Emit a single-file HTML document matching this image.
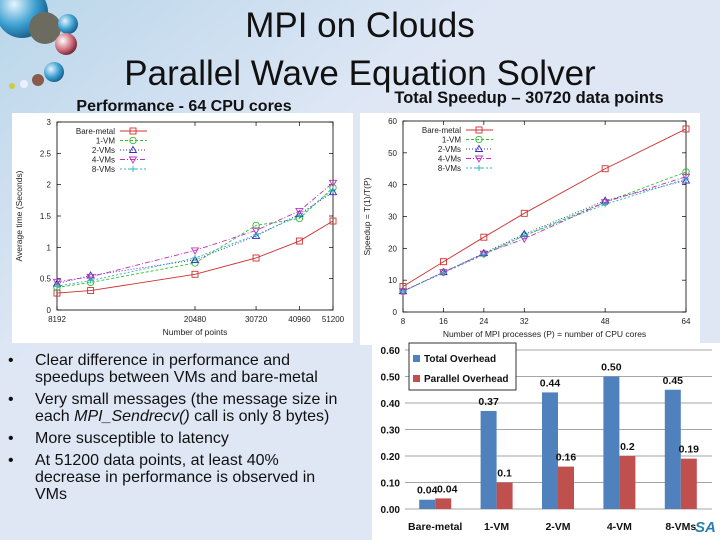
<!DOCTYPE html>
<html><head><meta charset="utf-8"><style>
body{margin:0;width:720px;height:540px;overflow:hidden;background:#dfe7f5;font-family:"Liberation Sans",sans-serif}
svg{display:block}
</style></head><body>
<svg id="s" width="720" height="540" xmlns="http://www.w3.org/2000/svg">
<defs>
<linearGradient id="bg" x1="0" y1="0" x2="1" y2="1"><stop offset="0" stop-color="#b9d6ea"/><stop offset="0.35" stop-color="#dfe7f5"/><stop offset="1" stop-color="#dfe7f5"/></linearGradient>
<radialGradient id="ball" cx="0.35" cy="0.35" r="0.7"><stop offset="0" stop-color="#e8f4ff"/><stop offset="0.6" stop-color="#3a9fd0"/><stop offset="1" stop-color="#1a5c88"/></radialGradient>
<radialGradient id="ballr" cx="0.35" cy="0.35" r="0.7"><stop offset="0" stop-color="#fff"/><stop offset="0.6" stop-color="#d07080"/><stop offset="1" stop-color="#6a2030"/></radialGradient>
</defs>
<rect width="720" height="540" fill="url(#bg)"/>
<g>
<circle cx="22" cy="12" r="26" fill="url(#ball)"/>
<circle cx="45" cy="28" r="16" fill="#6b6b60"/>
<circle cx="68" cy="24" r="10" fill="url(#ball)"/>
<circle cx="66" cy="44" r="11" fill="url(#ballr)"/>
<circle cx="54" cy="72" r="10" fill="url(#ball)"/>
<circle cx="38" cy="80" r="6" fill="#8a5a4a"/>
<circle cx="24" cy="84" r="4" fill="#eef"/>
<circle cx="12" cy="86" r="3" fill="#cc4"/>
</g>
<text x="360" y="37" text-anchor="middle" font-size="35" fill="#111">MPI on Clouds</text>
<text x="360" y="85" text-anchor="middle" font-size="35" fill="#111">Parallel Wave Equation Solver</text>
<text x="184" y="111" text-anchor="middle" font-size="16" font-weight="bold" fill="#111">Performance -  64 CPU cores</text>
<text x="529" y="103" text-anchor="middle" font-size="16.5" font-weight="bold" fill="#111">Total Speedup – 30720 data points</text>
<g id="left"></g>
<g id="right"></g>
<g id="bar"></g>
<g font-size="16" fill="#111">
<text x="8" y="365">•</text><text x="35" y="365">Clear difference in performance and</text>
<text x="35" y="382">speedups between VMs and bare-metal</text>
<text x="8" y="404">•</text><text x="35" y="404">Very small messages (the message size in</text>
<text x="35" y="421">each <tspan font-style="italic">MPI_Sendrecv()</tspan> call is only 8 bytes)</text>
<text x="8" y="443">•</text><text x="35" y="443">More susceptible to latency</text>
<text x="8" y="465">•</text><text x="35" y="465">At 51200 data points, at least 40%</text>
<text x="35" y="482">decrease in performance is observed in</text>
<text x="35" y="499">VMs</text>
</g>
<text x="695" y="532" font-size="15" font-weight="bold" font-style="italic" fill="#2a7fb0">SA</text>
</svg>
<script>
// ---- left chart data ----
const perfX = [8192, 10240, 20480, 30720, 40960, 51200];
const perfXTicks = [8192, 20480, 30720, 40960, 51200];
const perfYTicks = [0, 0.5, 1, 1.5, 2, 2.5, 3];
const perfBare = [0.27, 0.31, 0.57, 0.83, 1.10, 1.42];
const perf1VM = [0.36, 0.44, 0.75, 1.35, 1.46, 1.95];
const perf2VM = [0.42, 0.55, 0.80, 1.18, 1.53, 1.88];
const perf4VM = [0.45, 0.53, 0.95, 1.27, 1.58, 2.03];
const perf8VM = [0.38, 0.47, 0.83, 1.20, 1.50, 1.92];
// ---- right chart data ----
const spX = [8, 16, 24, 32, 48, 64];
const spYTicks = [0, 10, 20, 30, 40, 50, 60];
const spBare = [8, 15.8, 23.5, 31, 45, 57.5];
const sp1VM = [6.5, 12.5, 18.3, 24, 34.5, 44];
const sp2VM = [6.5, 12.5, 18.5, 24.5, 35, 41.3];
const sp4VM = [6.5, 12.5, 18.3, 23, 34.5, 42.5];
const sp8VM = [6.5, 12.3, 18, 24, 33.8, 41.8];
// ---- bar chart data ----
const ohCats = ["Bare-metal", "1-VM", "2-VM", "4-VM", "8-VMs"];
const ohTotal = [0.035, 0.37, 0.44, 0.50, 0.45];
const ohTotalLabels = ["0.04", "0.37", "0.44", "0.50", "0.45"];
const ohPar = [0.04, 0.10, 0.16, 0.20, 0.19];
const ohParLabels = ["0.04", "0.1", "0.16", "0.2", "0.19"];
const ohYTicks = [0, 0.1, 0.2, 0.3, 0.4, 0.5, 0.6];

const NS = "http://www.w3.org/2000/svg";
function el(p, t, a, txt){const e=document.createElementNS(NS,t);for(const k in a)e.setAttribute(k,a[k]);if(txt!==undefined)e.textContent=txt;p.appendChild(e);return e;}
const seriesStyle = [
 {n:"Bare-metal",c:"#d03030",d:"",m:"sq"},
 {n:"1-VM",c:"#30c030",d:"3,2",m:"ci"},
 {n:"2-VMs",c:"#3030c0",d:"1,2",m:"tu"},
 {n:"4-VMs",c:"#c030c0",d:"5,2,1,2",m:"td"},
 {n:"8-VMs",c:"#30b0c0",d:"2,2",m:"pl"}];
function marker(g,m,x,y,c){
 const a={fill:"none",stroke:c,"stroke-width":0.9};
 let e;
 if(m==="sq")e=el(g,"rect",Object.assign({x:x-3,y:y-3,width:6,height:6},a));
 else if(m==="ci")e=el(g,"circle",Object.assign({cx:x,cy:y,r:3.2},a));
 else if(m==="tu")e=el(g,"path",Object.assign({d:`M${x-3.5},${y+2.5}L${x+3.5},${y+2.5}L${x},${y-3.5}Z`},a));
 else if(m==="td")e=el(g,"path",Object.assign({d:`M${x-3.5},${y-2.5}L${x+3.5},${y-2.5}L${x},${y+3.5}Z`},a));
 else e=el(g,"path",Object.assign({d:`M${x-3},${y}H${x+3}M${x},${y-3}V${y+3}`},a));
 
 
}
function lineChart(g, box, xs, xf, yf, xticks, xtl, yticks, ytl, series, xlabel, ylabel, px0, py0, px1, py1){
 el(g,"rect",{x:box[0],y:box[1],width:box[2],height:box[3],fill:"#fff"});
 el(g,"rect",{x:px0,y:py1,width:px1-px0,height:py0-py1,fill:"none",stroke:"#000","stroke-width":0.8});
 xticks.forEach((t,i)=>{const x=xf(t);el(g,"line",{x1:x,y1:py0,x2:x,y2:py0-4,stroke:"#000","stroke-width":0.7});el(g,"line",{x1:x,y1:py1,x2:x,y2:py1+4,stroke:"#000","stroke-width":0.7});
  const tx=el(g,"text",{x:x,y:py0+12,"text-anchor":"middle","font-size":8,fill:"#222"},xtl[i]);});
 yticks.forEach((t,i)=>{const y=yf(t);el(g,"line",{x1:px0,y1:y,x2:px0+4,y2:y,stroke:"#000","stroke-width":0.7});el(g,"line",{x1:px1,y1:y,x2:px1-4,y2:y,stroke:"#000","stroke-width":0.7});
  const ty=el(g,"text",{x:px0-6,y:y+3,"text-anchor":"end","font-size":8,fill:"#222"},ytl[i]);});
 const xl=el(g,"text",{x:(px0+px1)/2,y:py0+25,"text-anchor":"middle","font-size":8.5,fill:"#222"},xlabel);
 
 const cy=(py0+py1)/2;
 const yl=el(g,"text",{x:box[0]+10,y:cy,"text-anchor":"middle","font-size":8.5,fill:"#222",transform:`rotate(-90 ${box[0]+10} ${cy})`},ylabel);
 
 series.forEach((vals,si)=>{const st=seriesStyle[si];
  const pts=vals.map((v,i)=>[xf(xs[i]),yf(v)]);
  const p=el(g,"polyline",{points:pts.map(q=>q.join(",")).join(" "),fill:"none",stroke:st.c,"stroke-width":0.9,"stroke-dasharray":st.d});
  
  pts.forEach(q=>marker(g,st.m,q[0],q[1],st.c));
  const ly=py1+9+si*9.5, lx=px0+58;
  const lt=el(g,"text",{x:lx,y:ly+3,"text-anchor":"end","font-size":8,fill:"#222"},st.n);
  
  el(g,"line",{x1:lx+5,y1:ly,x2:lx+32,y2:ly,stroke:st.c,"stroke-width":0.9,"stroke-dasharray":st.d});
  marker(g,st.m,lx+18,ly,st.c);
 });
}
// left
{const g=document.getElementById("left");const px0=57,px1=333,py0=310,py1=122;
 const lx0=Math.log(8192),lx1=Math.log(51200);
 const xf=v=>px0+(Math.log(v)-lx0)/(lx1-lx0)*(px1-px0);
 const yf=v=>py0-v/3*(py0-py1);
 lineChart(g,[12,113,341,230],perfX,xf,yf,perfXTicks,perfXTicks.map(String),perfYTicks,perfYTicks.map(String),[perfBare,perf1VM,perf2VM,perf4VM,perf8VM],"Number of points","Average time (Seconds)",px0,py0,px1,py1);}
// right
{const g=document.getElementById("right");const px0=403,px1=686,py0=312,py1=121;
 const xf=v=>px0+(v-8)/56*(px1-px0);
 const yf=v=>py0-v/60*(py0-py1);
 lineChart(g,[360,113,340,232],spX,xf,yf,spX,spX.map(String),spYTicks,spYTicks.map(String),[spBare,sp1VM,sp2VM,sp4VM,sp8VM],"Number of MPI processes (P) = number of CPU cores","Speedup = T(1)/T(P)",px0,py0,px1,py1);}
// bar
{const g=document.getElementById("bar");const px0=405,px1=712,py0=509,py1=350;
 el(g,"rect",{x:372,y:343,width:348,height:197,fill:"#fff"});
 const yf=v=>py0-v/0.6*(py0-py1);
 ohYTicks.forEach(t=>{const y=yf(t);el(g,"line",{x1:px0,y1:y,x2:px1,y2:y,stroke:"#888","stroke-width":0.8});
  const ty=el(g,"text",{x:400,y:y+4,"text-anchor":"end","font-size":10,"font-weight":"bold",fill:"#111"},t.toFixed(2));
  });
 const bw=(px1-px0)/ohCats.length;
 ohCats.forEach((c,i)=>{const cx=px0+bw*(i+0.5)-0.5;
  const b1=el(g,"rect",{x:cx-16,y:yf(ohTotal[i]),width:16,height:py0-yf(ohTotal[i]),fill:"#4f81bd"});
  
  const b2=el(g,"rect",{x:cx,y:yf(ohPar[i]),width:16,height:py0-yf(ohPar[i]),fill:"#c0504d"});
  
  const t1=el(g,"text",{x:cx-8,y:yf(ohTotal[i])-6,"text-anchor":"middle","font-size":10.5,"font-weight":"bold",fill:"#111"},ohTotalLabels[i]);
  
  const t2=el(g,"text",{x:cx+8+(i==0?4:0),y:yf(ohPar[i])-6,"text-anchor":"middle","font-size":10.5,"font-weight":"bold",fill:"#111"},ohParLabels[i]);
  
  const tc=el(g,"text",{x:cx,y:530,"text-anchor":"middle","font-size":10.5,"font-weight":"bold",fill:"#111"},c);
  
 });
 el(g,"rect",{x:409,y:343,width:107,height:47,fill:"#fff",stroke:"#000","stroke-width":0.8});
 el(g,"rect",{x:413,y:355,width:7,height:7,fill:"#4f81bd"});
 const l1=el(g,"text",{x:424,y:362,"font-size":10,"font-weight":"bold",fill:"#111"},"Total Overhead");
 
 el(g,"rect",{x:413,y:375,width:7,height:7,fill:"#c0504d"});
 const l2=el(g,"text",{x:424,y:382,"font-size":10,"font-weight":"bold",fill:"#111"},"Parallel Overhead");
 
}
</script>
</body></html>
